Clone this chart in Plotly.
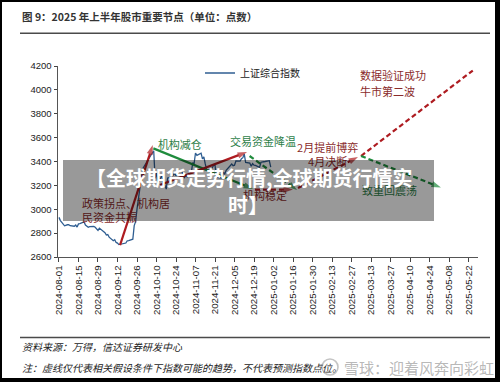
import plotly.graph_objects as go

# ---------------- data ----------------
sh_dates = [
    "2024-08-01", "2024-08-02", "2024-08-05", "2024-08-06", "2024-08-07", "2024-08-08", "2024-08-09",
    "2024-08-12", "2024-08-13", "2024-08-14", "2024-08-15", "2024-08-16", "2024-08-19", "2024-08-20",
    "2024-08-21", "2024-08-22", "2024-08-23", "2024-08-26", "2024-08-27", "2024-08-28", "2024-08-29",
    "2024-08-30", "2024-09-02", "2024-09-03", "2024-09-04", "2024-09-05", "2024-09-06", "2024-09-09",
    "2024-09-10", "2024-09-11", "2024-09-12", "2024-09-13", "2024-09-18", "2024-09-19", "2024-09-20",
    "2024-09-23", "2024-09-24", "2024-09-25", "2024-09-26", "2024-09-27", "2024-09-30", "2024-10-08",
    "2024-10-09", "2024-10-10", "2024-10-11", "2024-10-14", "2024-10-15", "2024-10-16", "2024-10-17",
    "2024-10-18", "2024-10-21", "2024-10-22", "2024-10-23", "2024-10-24", "2024-10-25", "2024-10-28",
    "2024-10-29", "2024-10-30", "2024-10-31", "2024-11-01", "2024-11-04", "2024-11-05", "2024-11-06",
    "2024-11-07", "2024-11-08", "2024-11-11", "2024-11-12", "2024-11-13", "2024-11-14", "2024-11-15",
    "2024-11-18", "2024-11-19", "2024-11-20", "2024-11-21", "2024-11-22", "2024-11-25", "2024-11-26",
    "2024-11-27", "2024-11-28", "2024-11-29", "2024-12-02", "2024-12-03", "2024-12-04", "2024-12-05",
    "2024-12-06", "2024-12-09", "2024-12-10", "2024-12-11", "2024-12-12", "2024-12-13", "2024-12-16",
    "2024-12-17", "2024-12-18", "2024-12-19", "2024-12-20", "2024-12-23", "2024-12-24", "2024-12-25",
    "2024-12-26", "2024-12-27", "2024-12-30", "2024-12-31",
]
sh_values = [
    2932, 2905, 2861, 2867, 2870, 2870, 2862,
    2858, 2868, 2851, 2877, 2879, 2894, 2867,
    2857, 2849, 2854, 2856, 2849, 2837, 2823,
    2842, 2811, 2803, 2784, 2788, 2766, 2736,
    2744, 2722, 2717, 2704, 2717, 2736, 2737,
    2749, 2863, 2896, 3001, 3088, 3337, 3490,
    3259, 3302, 3218, 3284, 3201, 3203, 3169,
    3262, 3268, 3286, 3303, 3280, 3300, 3322,
    3286, 3266, 3280, 3272, 3310, 3387, 3384,
    3471, 3452, 3470, 3422, 3439, 3380, 3331,
    3324, 3346, 3368, 3370, 3267, 3264, 3260,
    3310, 3296, 3326, 3364, 3379, 3365, 3369,
    3404, 3403, 3423, 3432, 3462, 3392, 3386,
    3361, 3382, 3370, 3368, 3352, 3394, 3393,
    3398, 3400, 3407, 3352,
]

tick_dates = [
    "2024-08-01", "2024-08-15", "2024-08-29", "2024-09-12", "2024-09-26", "2024-10-10",
    "2024-10-24", "2024-11-07", "2024-11-21", "2024-12-05", "2024-12-19", "2025-01-02",
    "2025-01-16", "2025-01-30", "2025-02-13", "2025-02-27", "2025-03-13", "2025-03-27",
    "2025-04-10", "2025-04-24", "2025-05-08", "2025-05-22",
]
y_ticks = [2600, 2800, 3000, 3200, 3400, 3600, 3800, 4000, 4200]

# schematic arrows: (start date, start value, end date, end value)
arrow_red_solid_1 = ["2024-09-13 20:00", 2700, "2024-10-07 08:00", 3538]
arrow_green_solid = ["2024-10-07 18:00", 3510, "2024-12-18 08:00", 3170]
arrow_red_solid_2 = ["2024-10-12 12:00", 3203, "2024-12-14", 3480]
arrow_green_dash_1 = ["2024-12-15 20:00", 3446, "2025-01-18 22:00", 3161]
arrow_red_dash_1 = ["2024-12-19 16:00", 3165, "2025-01-16", 3165]
arrow_red_dash_2 = ["2025-01-19 14:00", 3178, "2025-03-03 16:00", 3438]
arrow_red_dash_3 = ["2025-03-05 20:00", 3446, "2025-05-30 04:00", 4208]
arrow_green_dash_2 = ["2025-03-05 20:00", 3446, "2025-05-02 04:00", 3182]

# annotation labels: (left date, value, text)
red_labels = [
    ["2024-08-17 12:00", 3036, "政策拐点、机构居"],
    ["2024-08-17 12:00", 2918, "民资金共振"],
    ["2025-01-18 22:00", 3505, "2月提前博弈"],
    ["2025-01-26 20:00", 3387, "4月决断"],
    ["2024-12-11 02:00", 3103, "机构稳定"],
    ["2025-03-05 02:00", 4108, "数据验证成功"],
    ["2025-03-05 02:00", 3974, "牛市第二波"],
]
green_labels = [
    ["2024-10-11", 3530, "机构减仓"],
    ["2024-12-01 19:00", 3555, "交易资金降温"],
    ["2025-03-06 12:00", 3145, "致重回震荡"],
]

# ---------------- styles ----------------
W, H = 500, 382
L, R, T, B = 58, 478, 66, 257
RED = "#AE1B20"
GREEN = "#1F8C3D"
RED_TXT = "#8A2B2B"
GREEN_TXT = "#2D7E48"
BLUE = "#2F5E92"
CJK = "Noto Sans CJK SC"
LAT = "Liberation Sans, Arial"


def px(x):
    return (x - L) / (R - L)


def py(y):
    return (B - y) / (B - T)


fig = go.Figure()

fig.add_trace(go.Scatter(
    x=sh_dates, y=sh_values, mode="lines", name="上证综合指数",
    line=dict(color=BLUE, width=1.3), showlegend=True,
))


def add_arrow(a, color, dash):
    fig.add_trace(go.Scatter(
        x=[a[0], a[2]], y=[a[1], a[3]], mode="lines+markers",
        line=dict(color=color, width=2.2, dash=dash),
        marker=dict(symbol=["circle", "arrow"], size=[0, 10], color=color,
                    angleref="previous", line=dict(width=0)),
        cliponaxis=False, showlegend=False, hoverinfo="skip",
    ))


add_arrow(arrow_red_solid_1, RED, "solid")
add_arrow(arrow_green_solid, GREEN, "solid")
add_arrow(arrow_red_solid_2, RED, "solid")
add_arrow(arrow_green_dash_1, GREEN, "5px,3px")
add_arrow(arrow_red_dash_1, RED, "5px,3px")
add_arrow(arrow_red_dash_2, RED, "5px,3px")
add_arrow(arrow_red_dash_3, RED, "5px,3px")
add_arrow(arrow_green_dash_2, GREEN, "5px,3px")

for labels, col in ((red_labels, RED_TXT), (green_labels, GREEN_TXT)):
    fig.add_trace(go.Scatter(
        x=[l[0] for l in labels], y=[l[1] for l in labels], text=[l[2] for l in labels],
        mode="text", textposition="middle right",
        textfont=dict(family=CJK, size=11, color=col),
        cliponaxis=False, showlegend=False, hoverinfo="skip",
    ))

shapes = []
# title rule and footer rule
shapes.append(dict(type="line", xref="paper", yref="paper", x0=px(20), x1=px(490), y0=py(33.3), y1=py(33.3),
                   line=dict(color="#4a4a4a", width=1.5)))
shapes.append(dict(type="line", xref="paper", yref="paper", x0=px(20), x1=px(490), y0=py(337.5), y1=py(337.5),
                   line=dict(color="#4a4a4a", width=1.5)))
# gray overlay banner
shapes.append(dict(type="rect", xref="paper", yref="paper", x0=px(63), x1=px(434), y0=py(160), y1=py(221),
                   fillcolor="rgba(0,0,0,0.40)", line=dict(width=0), layer="above"))
# watermark logo circle
shapes.append(dict(type="circle", xref="paper", yref="paper", x0=px(322), x1=px(338), y0=py(359), y1=py(375),
                   line=dict(color="#c4c4c4", width=1.6), layer="above"))
# black frame
for (x0, x1, y0, y1) in ((0, 2, 0, H), (495, W, 0, H), (0, W, 0, 2), (0, W, 378, H)):
    shapes.append(dict(type="rect", xref="paper", yref="paper", x0=px(x0), x1=px(x1), y0=py(y0), y1=py(y1),
                       fillcolor="black", line=dict(width=0), layer="above"))

annotations = [
    dict(text="<b>图 9：2025 年上半年股市重要节点（单位：点数）</b>", x=px(20), y=py(16.5),
         font=dict(family=CJK, size=10.5, color="#333333")),
    dict(text="<i>资料来源：万得，信达证券研发中心</i>", x=px(20), y=py(346.5),
         font=dict(family=CJK, size=10, color="#222222")),
    dict(text="<i>注：虚线仅代表相关假设条件下指数可能的趋势，不代表预测指数点位。</i>", x=px(20), y=py(367),
         font=dict(family=CJK, size=10, color="#222222")),
    dict(text="雪球：迎着风奔向彩虹", x=px(342), y=py(367),
         font=dict(family=CJK, size=15, color="rgba(175,175,175,0.9)")),
    dict(text="<b>【全球期货走势行情,全球期货行情实</b>", x=px(249), y=py(177), xanchor="center",
         font=dict(family=CJK, size=20, color="white")),
    dict(text="<b>时】</b>", x=px(248), y=py(204), xanchor="center",
         font=dict(family=CJK, size=20, color="white")),
]
for a in annotations:
    a.setdefault("xanchor", "left")
    a.update(xref="paper", yref="paper", yanchor="middle", showarrow=False)

fig.update_layout(
    width=W, height=H, autosize=False,
    margin=dict(l=L, r=W - R, t=T, b=H - B, pad=0),
    paper_bgcolor="white", plot_bgcolor="white",
    showlegend=True,
    legend=dict(x=px(200), y=py(73), xanchor="left", yanchor="middle",
                bgcolor="rgba(0,0,0,0)", font=dict(family=CJK, size=10, color="#222222"),
                itemwidth=30),
    shapes=shapes, annotations=annotations,
    xaxis=dict(
        type="date", range=["2024-07-31 07:00", "2025-05-28 19:00"],
        tickmode="array", tickvals=tick_dates, ticktext=tick_dates, tickangle=-90,
        ticks="outside", ticklen=3.5, tickcolor="#444", tickwidth=1,
        showline=True, linecolor="#555", linewidth=1, showgrid=False, zeroline=False,
        tickfont=dict(family=LAT, size=9.7, color="#222222"),
    ),
    yaxis=dict(
        range=[2600, 4200], tickmode="array", tickvals=y_ticks,
        ticks="outside", ticklen=3.5, tickcolor="#444", tickwidth=1,
        showline=True, linecolor="#555", linewidth=1, showgrid=False, zeroline=False,
        tickfont=dict(family=LAT, size=9.5, color="#222222"),
    ),
)

fig.write_html("out.html")
